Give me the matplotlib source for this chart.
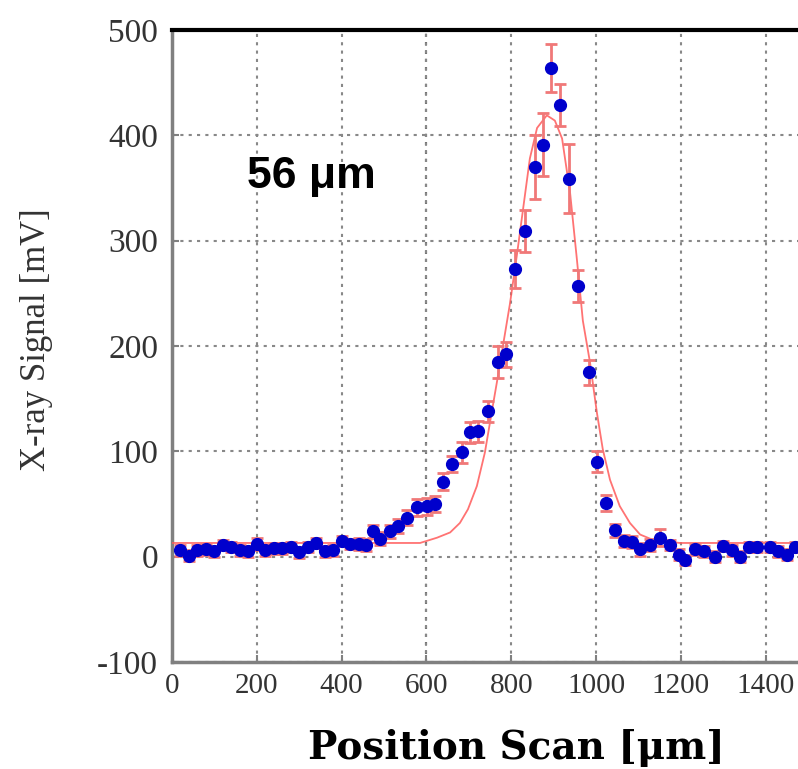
import numpy as np
import matplotlib.pyplot as plt

plt.rcParams['axes.unicode_minus'] = False

# measured scan points (position in um, signal in mV, error in mV)
pos = [20, 40, 60, 80, 100, 120, 140, 160, 180, 200, 220, 240, 260, 280, 300,
       320, 340, 360, 380, 400, 420, 440, 458, 474, 490, 514, 533, 554, 577,
       601, 620, 639, 660, 684, 703, 722, 745, 769, 788, 809, 832, 856, 875,
       894, 915, 936, 957, 983, 1002, 1023, 1045, 1065, 1085, 1104, 1127, 1151,
       1175, 1195, 1210, 1233, 1255, 1280, 1299, 1320, 1339, 1360, 1380, 1410,
       1430, 1450, 1470, 1490]
sig = [6, 1, 6, 7, 5, 11, 9, 6, 5, 12, 6, 8, 8, 9, 4,
       9, 13, 5, 6, 15, 12, 12, 11, 24, 17, 24, 29, 37, 47,
       48, 50, 71, 88, 99, 118, 119, 138, 185, 192, 273, 309, 370, 391,
       464, 429, 359, 257, 175, 90, 51, 25, 15, 14, 7, 11, 18,
       11, 2, -3, 7, 5, 0, 10, 6, 0, 9, 9, 9,
       5, 2, 9, 12]
err = [5, 5, 5, 5, 5, 5, 5, 5, 5, 6, 5, 5, 5, 5, 5,
       5, 5, 5, 5, 5, 5, 6, 6, 6, 6, 6, 7, 7, 8,
       8, 8, 8, 8, 10, 10, 10, 10, 15, 12, 18, 20, 30, 30,
       23, 20, 33, 15, 12, 10, 8, 6, 6, 6, 6, 6, 8,
       5, 5, 5, 5, 5, 5, 5, 5, 5, 5, 5, 5,
       5, 5, 5, 5]

# fitted curve
fit_x = [0, 400, 585, 625, 656, 679, 698, 719, 738, 754, 766, 778, 797, 814,
         828, 844, 861, 884, 903, 920, 939, 955, 969, 986, 1002, 1016, 1033,
         1056, 1080, 1104, 1134, 1198, 1500]
fit_y = [13, 13, 13, 18, 23, 32, 45, 67, 99, 137, 165, 194, 240, 288,
         330, 378, 407, 419, 414, 397, 345, 282, 224, 184, 137, 102, 73,
         48, 32, 21, 16, 13, 13]

xticks = [0, 200, 400, 600, 800, 1000, 1200, 1400]
yticks = [-100, 0, 100, 200, 300, 400, 500]

fig = plt.figure(figsize=(7.98, 7.69), dpi=100)
ax = fig.add_axes([172/798, 1-662/769, 636/798, 632/769])

ax.plot(fit_x, fit_y, color='#ff5a5a', lw=1.3, alpha=0.85, zorder=3)
ax.errorbar(pos, sig, yerr=err, fmt='o', color='#0000cc', ms=8.5, mec='#0000cc',
            ecolor='#f07878', elinewidth=2, capsize=4, capthick=2, zorder=4)

ax.set_xlim(0, 1500)
ax.set_ylim(-100, 500)
ax.set_xticks(xticks)
ax.set_yticks(yticks)
ax.grid(True, ls=(0, (1.5, 2.5)), color='#888888', lw=1.5)
ax.axvline(600, ls=(0, (1.5, 2.5)), color='black', lw=1.5, zorder=1)

for s in ['left', 'bottom']:
    ax.spines[s].set_color('#808080')
    ax.spines[s].set_linewidth(2.5)
ax.spines['top'].set_color('black')
ax.spines['top'].set_linewidth(3)
ax.spines['right'].set_visible(False)

ax.tick_params(direction='in', length=5, width=1.5, color='#808080')
ax.tick_params(axis='y', pad=10)
ax.tick_params(axis='x', pad=8)
for t in ax.get_yticklabels():
    t.set_family('Liberation Serif')
    t.set_fontsize(24)
    t.set_color('#333333')
for t in ax.get_xticklabels():
    t.set_family('Liberation Serif')
    t.set_fontsize(21)
    t.set_color('#333333')

ax.text(177, 361, '56 \u03bcm', family='Liberation Sans', weight='bold',
        fontsize=32, va='center', ha='left')

fig.text(37/798, 1-340/769, 'X-ray Signal [mV]', rotation=90, ha='center',
         va='center', family='Liberation Serif', fontsize=25, color='#333333')
fig.text(516/798, 1-748/769, 'Position Scan [\u03bcm]', ha='center', va='center',
         family='DejaVu Serif', weight='bold', fontsize=28)

plt.savefig('out.png', dpi=100)
